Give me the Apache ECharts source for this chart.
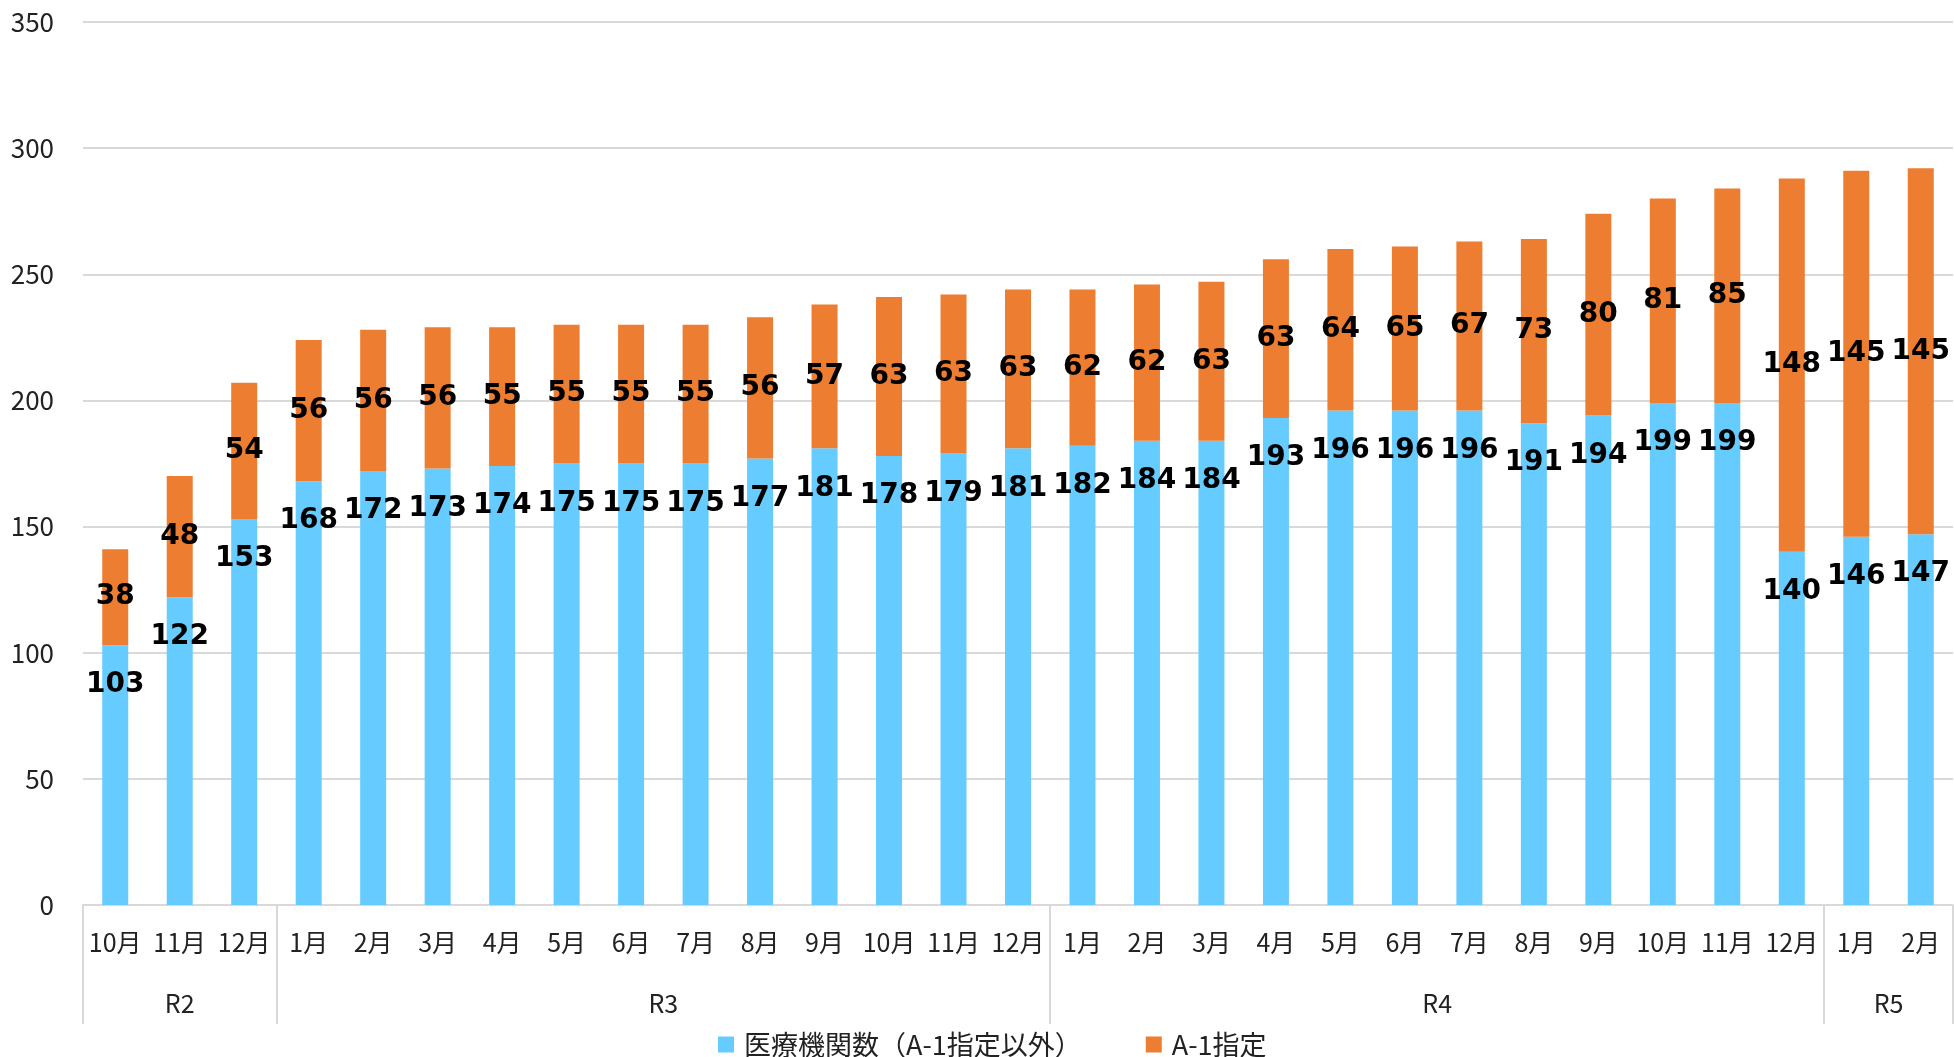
<!DOCTYPE html>
<html>
<head>
<meta charset="utf-8">
<script src="https://cdn.jsdelivr.net/npm/echarts@6/dist/echarts.min.js"></script>
<style>
  html, body { margin: 0; padding: 0; background: #fff; }
  #main { width: 1954px; height: 1057px; }
</style>
</head>
<body>
<div id="main"></div>
<script>
var months = ['10月', '11月', '12月',
  '1月', '2月', '3月', '4月', '5月', '6月', '7月', '8月', '9月', '10月', '11月', '12月',
  '1月', '2月', '3月', '4月', '5月', '6月', '7月', '8月', '9月', '10月', '11月', '12月',
  '1月', '2月'];
var blueVals = [103, 122, 153,
  168, 172, 173, 174, 175, 175, 175, 177, 181, 178, 179, 181,
  182, 184, 184, 193, 196, 196, 196, 191, 194, 199, 199, 140,
  146, 147];
var orangeVals = [38, 48, 54,
  56, 56, 56, 55, 55, 55, 55, 56, 57, 63, 63, 63,
  62, 62, 63, 63, 64, 65, 67, 73, 80, 81, 85, 148,
  145, 145];
// year groups: name, middle index, boundaries
var groupNames = ['R2', 'R3', 'R4', 'R5'];
var groupMid = [1, 8.5, 20.5, 27.5];
var groupEdges = [-0.5, 2.5, 14.5, 26.5, 28.5];

var seriesNames = ['医療機関数（A-1指定以外）', 'A-1指定'];
var jp = '"Noto Sans CJK JP", "Noto Sans", sans-serif';

var myChart = echarts.init(document.getElementById('main'));

var option = {
  animation: false,
  grid: { left: 83, right: 1, top: 22, bottom: 152, containLabel: false },
  legend: {
    data: seriesNames,
    left: 713,
    top: 1026,
    itemWidth: 16,
    itemHeight: 16,
    itemGap: 64,
    icon: 'rect',
    textStyle: { fontFamily: jp, fontSize: 27, color: '#222', padding: [0, 0, 0, 5] }
  },
  xAxis: [
    {
      type: 'category',
      data: months,
      axisLine: { lineStyle: { color: '#D9D9D9', width: 2 } },
      axisTick: { show: false },
      axisLabel: { interval: 0, margin: 25, fontFamily: jp, fontSize: 25, color: '#222' }
    },
    {
      type: 'value',
      min: -0.5,
      max: 28.5,
      position: 'bottom',
      axisLine: { show: false },
      splitLine: { show: false },
      axisTick: {
        show: true,
        customValues: groupEdges,
        length: 119,
        lineStyle: { color: '#D9D9D9', width: 2 }
      },
      axisLabel: {
        customValues: groupMid,
        margin: 86,
        fontFamily: jp,
        fontSize: 25,
        color: '#222',
        formatter: function (v) {
          var i = groupMid.indexOf(v);
          return i >= 0 ? groupNames[i] : '';
        }
      }
    }
  ],
  yAxis: {
    type: 'value',
    min: 0,
    max: 350,
    interval: 50,
    axisLine: { show: false },
    axisTick: { show: false },
    splitLine: { lineStyle: { color: '#D9D9D9', width: 2 } },
    axisLabel: { margin: 29, fontFamily: jp, fontSize: 26, color: '#222' }
  },
  series: [
    {
      name: seriesNames[0],
      type: 'bar',
      stack: 'total',
      barWidth: 26,
      data: blueVals,
      itemStyle: { color: '#66CCFF' },
      label: {
        show: true,
        position: 'insideTop',
        distance: 26,
        fontFamily: '"DejaVu Sans", sans-serif',
        fontWeight: 'bold',
        fontSize: 28,
        color: '#000'
      }
    },
    {
      name: seriesNames[1],
      type: 'bar',
      stack: 'total',
      barWidth: 26,
      data: orangeVals,
      itemStyle: { color: '#ED7D31' },
      label: {
        show: true,
        position: 'inside',
        fontFamily: '"DejaVu Sans", sans-serif',
        fontWeight: 'bold',
        fontSize: 28,
        color: '#000'
      }
    }
  ]
};

myChart.setOption(option);
</script>
</body>
</html>
